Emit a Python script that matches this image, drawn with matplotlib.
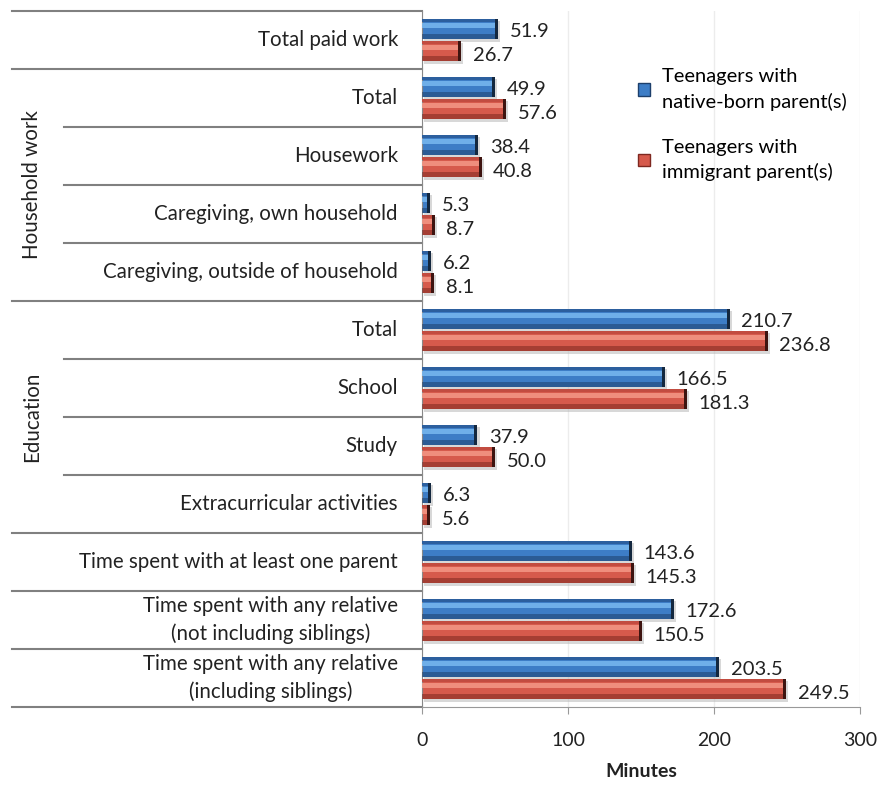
import matplotlib
matplotlib.use("Agg")
import matplotlib.pyplot as plt
from matplotlib.lines import Line2D
import numpy as np

plt.rcParams['font.family'] = ['Lato', 'DejaVu Sans']

categories = [
    "Total paid work",
    "Total",
    "Housework",
    "Caregiving, own household",
    "Caregiving, outside of household",
    "Total",
    "School",
    "Study",
    "Extracurricular activities",
    "Time spent with at least one parent",
    "Time spent with any relative\n(not including siblings)",
    "Time spent with any relative\n(including siblings)",
]
native = [51.9, 49.9, 38.4, 5.3, 6.2, 210.7, 166.5, 37.9, 6.3, 143.6, 172.6, 203.5]
immigrant = [26.7, 57.6, 40.8, 8.7, 8.1, 236.8, 181.3, 50.0, 5.6, 145.3, 150.5, 249.5]
native_labels = ["51.9", "49.9", "38.4", "5.3", "6.2", "210.7", "166.5", "37.9", "6.3", "143.6", "172.6", "203.5"]
immigrant_labels = ["26.7", "57.6", "40.8", "8.7", "8.1", "236.8", "181.3", "50.0", "5.6", "145.3", "150.5", "249.5"]
groups = [("Household work", 1, 4), ("Education", 5, 8)]
series_names = ["Teenagers with\nnative-born parent(s)", "Teenagers with\nimmigrant parent(s)"]
xticks = [0, 100, 200, 300]

W, H = 884, 786
fig = plt.figure(figsize=(W / 100, H / 100), dpi=100)
ax = fig.add_axes([422 / W, 1 - 707 / H, (860 - 422) / W, (707 - 11) / H])

n = len(categories)
y = np.arange(n)
bh = 0.36
off = 0.19

blue = dict(base="#3d7dc6", hi="#78b8f0", top="#2c5f9e", dk="#1d3f6b", cap="#14283f")
red = dict(base="#d65a4c", hi="#f49886", top="#c24c40", dk="#7e2820", cap="#3e1410")

def draw(vals, ypos, c):
    vals = np.array(vals)
    # shadow
    ax.barh(ypos + 0.05, vals, height=bh, left=1.5, color="#b8b8b8", alpha=0.55, zorder=1)
    ax.barh(ypos, vals, height=bh, color=c["base"], edgecolor="none", zorder=2)
    ax.barh(ypos - bh * 0.40, vals, height=bh * 0.16, color=c["top"], zorder=3)
    ax.barh(ypos - bh * 0.16, vals, height=bh * 0.26, color=c["hi"], alpha=0.85, zorder=3)
    ax.barh(ypos + bh * 0.36, vals, height=bh * 0.28, color=c["dk"], alpha=0.55, zorder=3)
    # dark end cap
    ax.barh(ypos, np.full(len(vals), 2.0), left=vals - 2.0, height=bh, color=c["cap"], zorder=4)

draw(native, y - off, blue)
draw(immigrant, y + off, red)

for i in range(n):
    ax.text(native[i] + 8, y[i] - off + 0.05, native_labels[i], va="center", ha="left", fontsize=14.5, color="#222222")
    ax.text(immigrant[i] + 8, y[i] + off + 0.08, immigrant_labels[i], va="center", ha="left", fontsize=14.5, color="#222222")

ax.set_xlim(0, 300)
ax.set_ylim(n - 0.5, -0.5)
ax.set_yticks([])
ax.set_xticks(xticks)
ax.set_xticklabels([str(t) for t in xticks], fontsize=14, color="#222222")
ax.tick_params(axis="x", direction="out", length=5, color="#999999", pad=13)
ax.set_xlabel("Minutes", fontsize=14, fontweight="bold", labelpad=10, color="#222222")
for s in ["top", "right"]:
    ax.spines[s].set_visible(False)
ax.spines["left"].set_color("#888888")
ax.spines["bottom"].set_color("#999999")
ax.xaxis.grid(True, color="#ececec", linewidth=1)
ax.set_axisbelow(True)

# left label area with separators
for i, c in enumerate(categories):
    ax.annotate(c, xy=(0, y[i]), xycoords=("axes fraction", "data"), xytext=(-24, 0),
                textcoords="offset pixels", ha="right", va="center", multialignment="center",
                fontsize=14.8, color="#222222", linespacing=1.45, annotation_clip=False)

full = {-0.5, 0.5, 4.5, 8.5, 9.5, 10.5, 11.5}
for b in np.arange(-0.5, n, 1.0):
    x0 = 12 if b in full else 64
    x0_ax = (x0 - 422) / (860 - 422)
    ax.add_line(Line2D([x0_ax, 0], [b, b], transform=ax.get_yaxis_transform(), color="#808080",
                       linewidth=1.5, clip_on=False))

for name, a, b in groups:
    ax.annotate(name, xy=(0, (a + b) / 2), xycoords=("axes fraction", "data"),
                xytext=(32 - 422, 0), textcoords="offset pixels", rotation=90,
                ha="center", va="center", fontsize=14.8, color="#222222", annotation_clip=False)

handles = [plt.Rectangle((0, 0), 1, 1, color=blue["base"], ec=blue["dk"]),
           plt.Rectangle((0, 0), 1, 1, color=red["base"], ec=red["dk"])]
leg = fig.legend(handles, series_names, loc="upper left", bbox_to_anchor=(630 / W, 1 - 60 / H),
                 frameon=False, fontsize=14.5, handlelength=0.6, handleheight=0.6, handletextpad=0.6,
                 labelspacing=1.4, borderaxespad=0)
for t in leg.get_texts():
    t.set_linespacing(1.5)

fig.savefig("out.png", dpi=100)
